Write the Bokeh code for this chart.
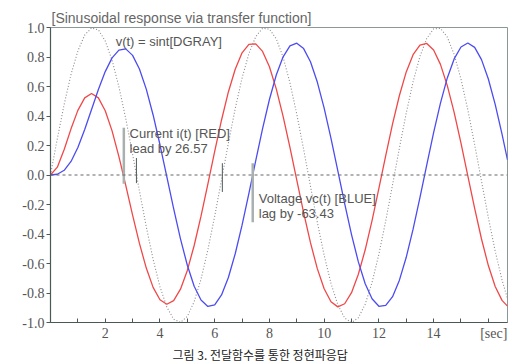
from bokeh.plotting import figure
from bokeh.models import Range1d, FixedTicker, Label, Span, PrintfTickFormatter, Title
from bokeh.embed import file_html
from bokeh.resources import INLINE

# sample times [sec]
t = [0.0, 0.25, 0.5, 0.75, 1.0, 1.25, 1.5, 1.75, 2.0, 2.25, 2.5, 2.75, 3.0, 3.25, 3.5, 3.75,
     4.0, 4.25, 4.5, 4.75, 5.0, 5.25, 5.5, 5.75, 6.0, 6.25, 6.5, 6.75, 7.0, 7.25, 7.5, 7.75,
     8.0, 8.25, 8.5, 8.75, 9.0, 9.25, 9.5, 9.75, 10.0, 10.25, 10.5, 10.75, 11.0, 11.25, 11.5, 11.75,
     12.0, 12.25, 12.5, 12.75, 13.0, 13.25, 13.5, 13.75, 14.0, 14.25, 14.5, 14.75, 15.0, 15.25, 15.5, 15.75,
     16.0, 16.25, 16.5, 16.7]

# v(t) = sin t  (dark gray, dotted)
v_src = [0.000, 0.247, 0.479, 0.682, 0.841, 0.949, 0.997, 0.984, 0.909, 0.778, 0.598, 0.382, 0.141, -0.108, -0.351, -0.572,
         -0.757, -0.895, -0.978, -0.999, -0.959, -0.859, -0.706, -0.508, -0.279, -0.033, 0.215, 0.450, 0.657, 0.823, 0.938, 0.995,
         0.989, 0.923, 0.799, 0.625, 0.412, 0.174, -0.075, -0.320, -0.544, -0.735, -0.880, -0.970, -1.000, -0.968, -0.876, -0.729,
         -0.537, -0.311, -0.066, 0.183, 0.420, 0.632, 0.804, 0.926, 0.991, 0.994, 0.935, 0.818, 0.650, 0.442, 0.206, -0.042,
         -0.288, -0.516, -0.712, -0.838]

# current i(t) (red)
i_cur = [0.000, 0.053, 0.173, 0.313, 0.438, 0.523, 0.553, 0.523, 0.436, 0.299, 0.125, -0.070, -0.272, -0.464, -0.631, -0.762,
         -0.846, -0.876, -0.852, -0.774, -0.647, -0.478, -0.279, -0.062, 0.160, 0.373, 0.563, 0.717, 0.828, 0.886, 0.889, 0.838,
         0.734, 0.584, 0.398, 0.188, -0.034, -0.255, -0.459, -0.635, -0.771, -0.859, -0.894, -0.873, -0.798, -0.673, -0.507, -0.309,
         -0.091, 0.131, 0.346, 0.539, 0.699, 0.816, 0.881, 0.892, 0.847, 0.750, 0.606, 0.424, 0.216, -0.006, -0.226, -0.434,
         -0.614, -0.756, -0.850, -0.889]

# capacitor voltage vc(t) (blue)
v_cap = [0.000, 0.005, 0.032, 0.092, 0.187, 0.309, 0.444, 0.580, 0.701, 0.794, 0.847, 0.855, 0.811, 0.719, 0.582, 0.407,
         0.205, -0.011, -0.228, -0.433, -0.612, -0.754, -0.848, -0.891, -0.880, -0.813, -0.695, -0.534, -0.340, -0.125, 0.098, 0.315,
         0.512, 0.678, 0.801, 0.875, 0.894, 0.857, 0.768, 0.630, 0.453, 0.248, 0.028, -0.194, -0.404, -0.589, -0.737, -0.839,
         -0.890, -0.884, -0.825, -0.713, -0.558, -0.367, -0.154, 0.068, 0.287, 0.487, 0.658, 0.787, 0.868, 0.895, 0.865, 0.782,
         0.651, 0.479, 0.277, 0.102]

x_labels = {2: "2", 4: "4", 6: "6", 8: "8", 10: "10", 12: "12", 14: "14", 16.2: "[sec]"}
x_minor = [1, 2, 3, 4, 5, 6, 7, 8, 9, 10, 11, 12, 13, 14, 15, 16]
y_ticks = [-1.0, -0.8, -0.6, -0.4, -0.2, 0.0, 0.2, 0.4, 0.6, 0.8, 1.0]

# zero-crossing markers: (time, top, bottom)
bars_light = [(2.68, 0.32, -0.06), (7.39, 0.08, -0.32)]
bars_dark = [(3.14, 0.115, -0.055), (6.28, 0.08, -0.115)]

AX = "#4a5858"
LBL = "#555555"

p = figure(width=525, height=362, output_backend="svg", toolbar_location=None,
           x_range=Range1d(0, 16.7), y_range=Range1d(-1.0, 1.0),
           min_border_left=50, min_border_right=18, min_border_top=27, min_border_bottom=39)
p.xgrid.visible = False
p.ygrid.visible = False
p.outline_line_color = "#8c9898"
p.outline_line_width = 1
p.background_fill_color = "white"
p.border_fill_color = "white"

p.title.text = "[Sinusoidal response via transfer function]"
p.title.text_font = "Liberation Sans"
p.title.text_font_size = "14px"
p.title.text_font_style = "normal"
p.title.text_color = "#666666"
p.title.align = "left"
p.title.offset = 1
p.title.standoff = 4

p.xaxis.ticker = FixedTicker(ticks=list(x_labels.keys()), minor_ticks=x_minor)
p.xaxis.major_label_overrides = x_labels
p.xaxis.major_tick_in = 0
p.xaxis.major_tick_out = 0
p.xaxis.minor_tick_in = 4
p.xaxis.minor_tick_out = 0
p.xaxis.major_label_standoff = 3
p.yaxis.ticker = FixedTicker(ticks=y_ticks)
p.yaxis.formatter = PrintfTickFormatter(format="%.1f")
p.yaxis.major_tick_in = 0
p.yaxis.major_tick_out = 4
p.yaxis.major_label_standoff = 2
for ax in (p.xaxis, p.yaxis):
    ax.axis_line_color = AX
    ax.axis_line_width = 1.2
    ax.major_tick_line_color = AX
    ax.minor_tick_line_color = AX
    ax.major_label_text_font = "Liberation Serif"
    ax.major_label_text_font_size = "14px"
    ax.major_label_text_color = LBL
p.yaxis.minor_tick_line_color = None

caption = Title(text="그림 3. 전달함수를 통한 정현파응답", text_font="Noto Sans CJK KR",
                text_font_size="12px", text_font_style="normal", text_color="#222222",
                align="left", offset=122, standoff=0)
p.add_layout(caption, "below")

p.add_layout(Span(location=0, dimension="width", line_color="#666666", line_dash="3 3", line_width=1))

p.line(t, v_src, line_color="#8a8a8a", line_dash="1 2", line_width=1.1)
p.line(t, i_cur, line_color="#f04848", line_width=1.3)
p.line(t, v_cap, line_color="#4c4cf0", line_width=1.3)

p.segment(x0=[b[0] for b in bars_light], y0=[b[1] for b in bars_light],
          x1=[b[0] for b in bars_light], y1=[b[2] for b in bars_light],
          line_color="#a8b0b0", line_width=2.5)
p.segment(x0=[b[0] for b in bars_dark], y0=[b[1] for b in bars_dark],
          x1=[b[0] for b in bars_dark], y1=[b[2] for b in bars_dark],
          line_color="#505a5a", line_width=1)

def lab(x, y, text, size="13px", font="Liberation Sans", color=LBL, align="left", base="middle"):
    p.add_layout(Label(x=x, y=y, text=text, text_font=font, text_font_size=size,
                       text_color=color, text_align=align, text_baseline=base))

lab(2.38, 0.905, "v(t) = sint[DGRAY]")
lab(2.89, 0.284, "Current i(t) [RED]")
lab(2.89, 0.182, "lead by 26.57")
lab(7.61, -0.162, "Voltage vc(t) [BLUE]")
lab(7.61, -0.264, "lag by -63.43")

open("out.html", "w").write(file_html(p, INLINE))
